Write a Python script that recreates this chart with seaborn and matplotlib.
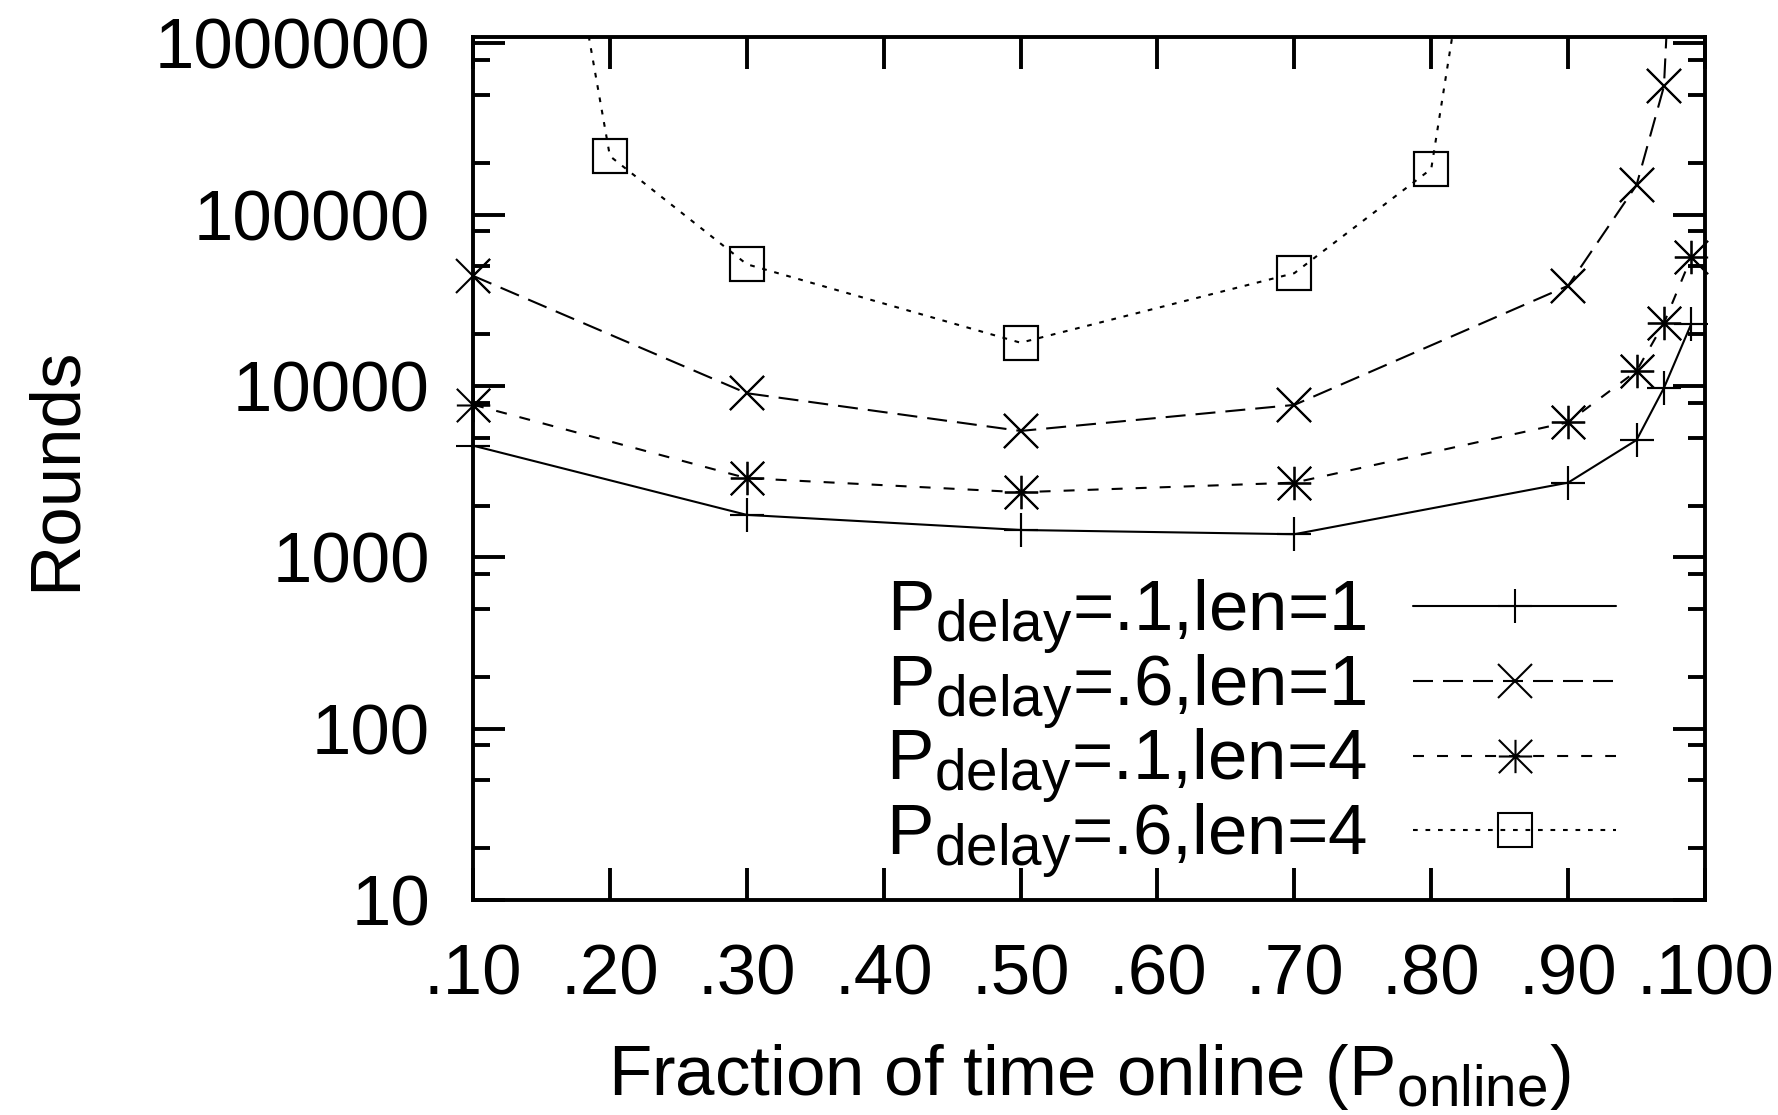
import numpy as np
import pandas as pd
import matplotlib
matplotlib.use("Agg")
import matplotlib.pyplot as plt
import seaborn as sns
from matplotlib.path import Path
from matplotlib.ticker import FixedLocator, FixedFormatter, LogLocator, NullFormatter, NullLocator

try:  # gnuplot-style subscripts: a little larger and lower than mathtext's default
    import matplotlib._mathtext as _mt
    _mt.SHRINK_FACTOR = 0.8
    _mt.FontConstantsBase.subdrop = 0.55
except Exception:
    pass

# ---------------- data ----------------
x_online = [0.10, 0.30, 0.50, 0.70, 0.90, 0.95, 0.97, 0.99]
rounds_p1_len1 = [4490, 1770, 1445, 1365, 2730, 4840, 9750, 23100]
rounds_p6_len1 = [44000, 9080, 5470, 7760, 38500, 149000, 561000, 1.0e9]
rounds_p1_len4 = [7790, 2900, 2400, 2730, 6150, 12250, 23300, 56500]
x_online_p6_len4 = [0.10, 0.20, 0.30, 0.50, 0.70, 0.80, 0.90]
rounds_p6_len4 = [7.4e9, 220000, 51400, 17900, 45600, 185000, 2.0e10]

series_labels = [r"P$_\mathrm{delay}$=.1,len=1",
                 r"P$_\mathrm{delay}$=.6,len=1",
                 r"P$_\mathrm{delay}$=.1,len=4",
                 r"P$_\mathrm{delay}$=.6,len=4"]

xtick_values = [0.1, 0.2, 0.3, 0.4, 0.5, 0.6, 0.7, 0.8, 0.9, 1.0]
xtick_labels = [".10", ".20", ".30", ".40", ".50", ".60", ".70", ".80", ".90", ".100"]
ytick_values = [10, 100, 1000, 10000, 100000, 1000000]
ytick_labels = ["10", "100", "1000", "10000", "100000", "1000000"]

x_title = r"Fraction of time online (P$_\mathrm{online}$)"
y_title = "Rounds"

# ---------------- long-form table ----------------
frames = []
for lab, xs, ys in [(series_labels[0], x_online, rounds_p1_len1),
                    (series_labels[1], x_online, rounds_p6_len1),
                    (series_labels[2], x_online, rounds_p1_len4),
                    (series_labels[3], x_online_p6_len4, rounds_p6_len4)]:
    frames.append(pd.DataFrame({"online": xs, "rounds": ys, "series": lab}))
df = pd.concat(frames, ignore_index=True)

# ---------------- style ----------------
sns.set_style("ticks")
plt.rcParams["font.family"] = ["Liberation Sans", "DejaVu Sans"]
plt.rcParams["mathtext.fontset"] = "custom"
plt.rcParams["mathtext.rm"] = "Liberation Sans"
plt.rcParams["mathtext.it"] = "Liberation Sans:italic"
plt.rcParams["mathtext.bf"] = "Liberation Sans:bold"
plt.rcParams["lines.scale_dashes"] = False
plt.rcParams["text.color"] = "black"
plt.rcParams["axes.labelcolor"] = "black"
plt.rcParams["legend.labelcolor"] = "black"

FS = 51
LW = 1.5
MS = 24

asterisk = Path([(-1, 0), (1, 0), (0, -1), (0, 1), (-1, -1), (1, 1), (-1, 1), (1, -1)],
                [Path.MOVETO, Path.LINETO] * 4)

styles = {
    series_labels[0]: dict(linestyle="-", marker="+"),
    series_labels[1]: dict(linestyle=(0, (14.4, 7.2)), marker="x"),
    series_labels[2]: dict(linestyle=(0, (7.9, 9.4)), marker=asterisk),
    series_labels[3]: dict(linestyle=(0, (3.4, 5.6)), marker="s"),
}

fig = plt.figure(figsize=(17.78, 11.15), dpi=100)
ax = fig.add_axes([473 / 1778, 1 - 900 / 1115, 1232 / 1778, 863 / 1115])

handles = []
for lab in series_labels:
    sub = df[df["series"] == lab]
    st = styles[lab]
    n_before = len(ax.get_lines())
    sns.lineplot(data=sub, x="online", y="rounds", ax=ax, color="black",
                 linewidth=LW, linestyle=st["linestyle"], marker=st["marker"],
                 markersize=MS, markeredgewidth=LW, markeredgecolor="black",
                 markerfacecolor="none", sort=False, estimator=None,
                 errorbar=None, label=lab, legend=False)
    handles.append(ax.get_lines()[n_before])
    # markers drawn again without clipping so that edge markers show fully
    sns.lineplot(data=sub, x="online", y="rounds", ax=ax, color="black",
                 linestyle="", marker=st["marker"], markersize=MS,
                 markeredgewidth=LW, markeredgecolor="black",
                 markerfacecolor="none", sort=False, estimator=None,
                 errorbar=None, legend=False, clip_on=False)

ax.set_yscale("log")
ax.set_xlim(0.1, 1.0)
ax.set_ylim(10, 1.09e6)

ax.xaxis.set_major_locator(FixedLocator(xtick_values))
ax.xaxis.set_major_formatter(FixedFormatter(xtick_labels))
ax.xaxis.set_minor_locator(NullLocator())
ax.yaxis.set_major_locator(FixedLocator(ytick_values))
ax.yaxis.set_major_formatter(FixedFormatter(ytick_labels))
ax.yaxis.set_minor_locator(LogLocator(base=10, subs=(2.0, 5.0, 8.0)))
ax.yaxis.set_minor_formatter(NullFormatter())

ax.tick_params(axis="both", which="both", direction="in", top=True, right=True,
               width=2.8, color="black", labelcolor="black", labelsize=FS)
ax.tick_params(axis="both", which="major", length=23)
ax.tick_params(axis="both", which="minor", length=12)
ax.tick_params(axis="x", which="major", pad=31)
ax.tick_params(axis="y", which="major", pad=31)

for sp in ax.spines.values():
    sp.set_linewidth(2.8)
    sp.set_color("black")
    sp.set_visible(True)
ax.grid(False)

ax.set_xlabel(x_title, fontsize=FS, color="black")
ax.set_ylabel(y_title, fontsize=FS, color="black")
ax.xaxis.label.set_va("baseline")
ax.xaxis.set_label_coords(0.5, (900 - 1095) / 863)
ax.yaxis.label.set_va("baseline")
ax.yaxis.set_label_coords((75 - 473) / 1232, 0.5)

leg = ax.legend(handles=handles, labels=series_labels, loc="lower right",
                bbox_to_anchor=((1616 - 473) / 1232, (900 - 880) / 863),
                frameon=False, fontsize=FS, markerfirst=False,
                handlelength=2.86, handletextpad=0.66, labelspacing=-0.05,
                borderpad=0, borderaxespad=0, numpoints=1, labelcolor="black")

fig.savefig("out.png", dpi=100)
